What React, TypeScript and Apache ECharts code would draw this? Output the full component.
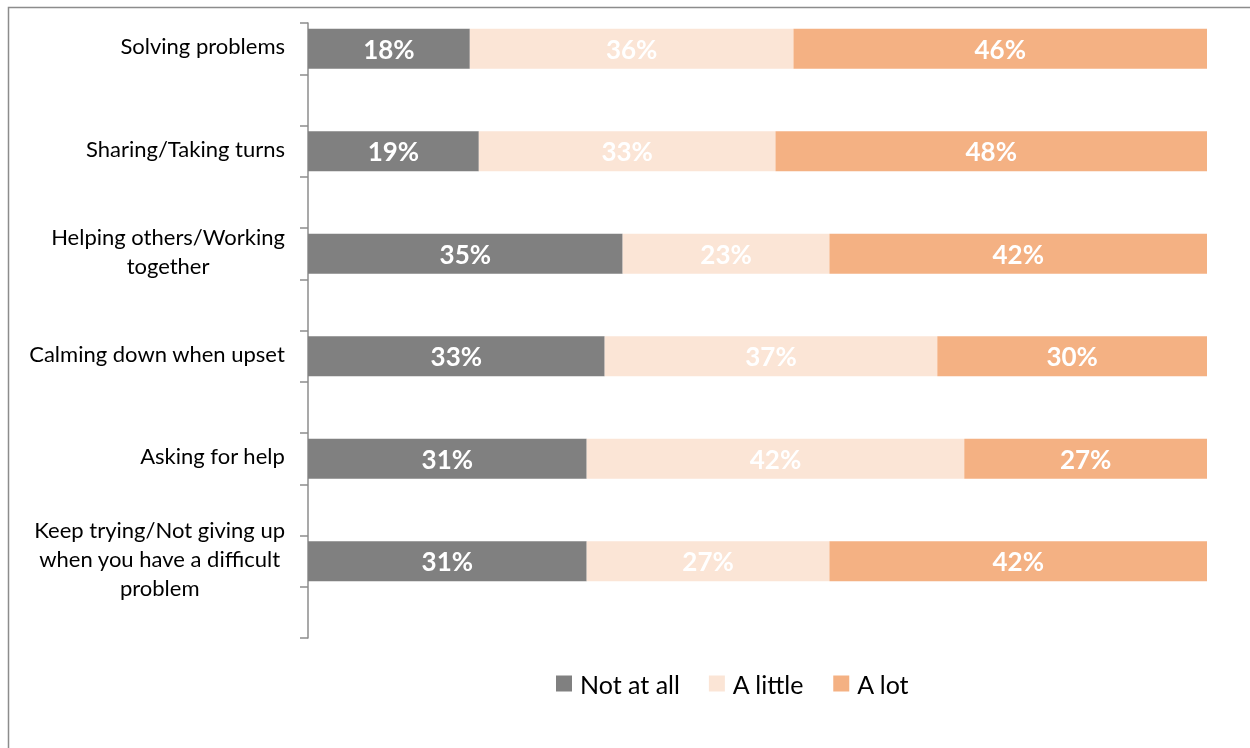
import React, { useEffect, useRef } from "react";
import * as echarts from "echarts";

const categories = [
  "Solving problems",
  "Sharing/Taking turns",
  "Helping others/Working\ntogether",
  "Calming down when upset",
  "Asking for help",
  "Keep trying/Not giving up\nwhen you have a difficult\nproblem",
];
const notAtAll = [18, 19, 35, 33, 31, 31];
const aLittle = [36, 33, 23, 37, 42, 27];
const aLot = [46, 48, 42, 30, 27, 42];
const seriesNames = ["Not at all", "A little", "A lot"];
const seriesColors = ["#808080", "#FBE5D6", "#F4B183"];

export default function App() {
  const ref = useRef<HTMLDivElement>(null);
  useEffect(() => {
    if (!ref.current) return;
    const chart = echarts.init(ref.current, null, { renderer: "svg" });
    // interleave blank rows between categories (as in the source chart)
    const axisData: string[] = [];
    categories.forEach((c, i) => {
      axisData.push(c);
      axisData.push("_gap" + i);
    });
    const spread = (vals: number[]) => {
      const out: (number | string)[] = [];
      vals.forEach((v) => {
        out.push(v);
        out.push("-");
      });
      return out;
    };
    const allVals = [notAtAll, aLittle, aLot];
    chart.setOption({
      animation: false,
      textStyle: { fontFamily: "Lato" },
      graphic: [
        {
          type: "rect",
          shape: { x: 8.5, y: 7.5, width: 1400, height: 900 },
          style: { fill: "none", stroke: "#8c8c8c", lineWidth: 1.5 },
          silent: true,
        },
      ],
      grid: { left: 308, right: 43, top: 23, bottom: 110 },
      legend: {
        data: seriesNames,
        left: 551,
        top: 666,
        itemWidth: 16,
        itemHeight: 16,
        itemGap: 29,
        icon: "rect",
        textStyle: { fontSize: 25, color: "#000", fontFamily: "Lato", padding: [0, 0, 0, 3] },
      },
      xAxis: {
        type: "value",
        min: 0,
        max: 100,
        show: false,
      },
      yAxis: {
        type: "category",
        inverse: true,
        data: axisData,
        axisLine: { show: true, lineStyle: { color: "#8c8c8c", width: 1.5 } },
        axisTick: { show: true, interval: 0, length: 8, lineStyle: { color: "#8c8c8c", width: 1.5 } },
        axisLabel: {
          interval: 0,
          margin: 23,
          color: "#000",
          fontSize: 22,
          fontFamily: "Lato",
          padding: [0, 0, 6, 0],
          formatter: (v: string) =>
            v.startsWith("_gap")
              ? ""
              : v
                  .split("\n")
                  .map((l) => `{c|${l}}`)
                  .join("\n"),
          rich: {
            c: { align: "center", fontSize: 22, lineHeight: 29, color: "#000", fontFamily: "Lato" },
          },
        },
        splitLine: { show: false },
      },
      series: seriesNames.map((name, i) => ({
        name,
        type: "bar",
        stack: "total",
        barWidth: 40,
        data: spread(allVals[i]),
        itemStyle: { color: seriesColors[i] },
        label: {
          show: true,
          position: "inside",
          formatter: (p: any) => p.value + "%",
          color: "#fff",
          fontSize: 26,
          fontWeight: "bold",
          fontFamily: "Lato",
        },
      })),
    });
    return () => chart.dispose();
  }, []);
  return (
    <div
      ref={ref}
      style={{ position: "fixed", left: 0, top: 0, width: 1250, height: 748 }}
    />
  );
}
